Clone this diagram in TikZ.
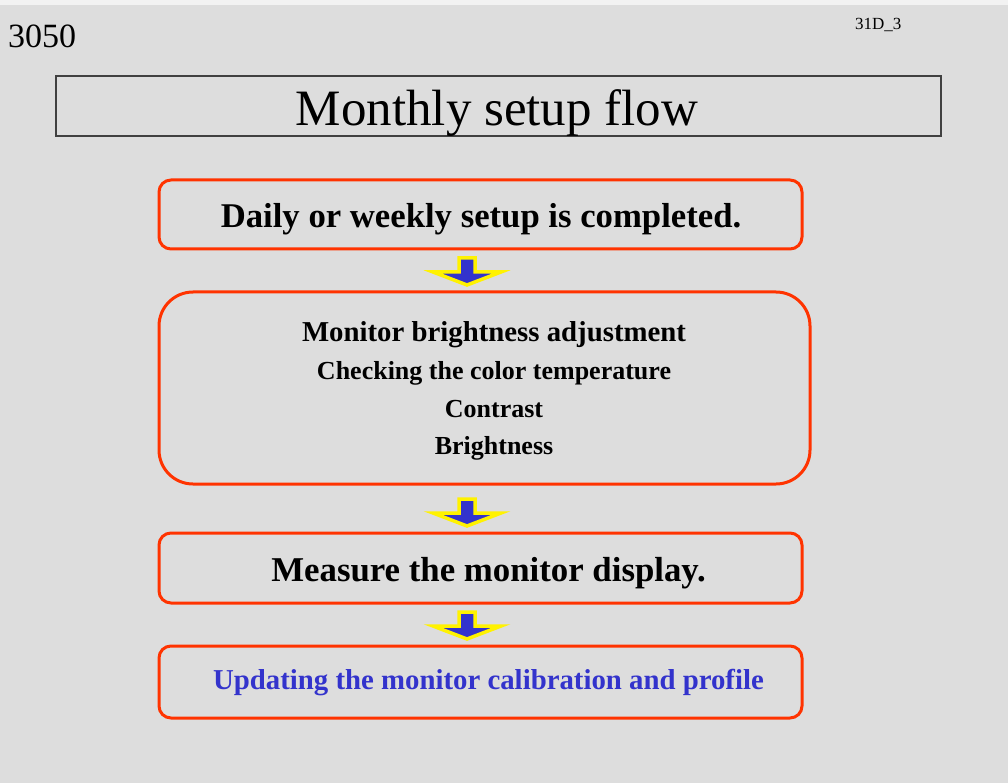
\documentclass[tikz,border=0pt]{standalone}
\usepackage{fontspec}
\setmainfont{Liberation Serif}
\definecolor{pagegray}{HTML}{DDDDDD}
\definecolor{pagetop}{HTML}{F2F2F2}
\definecolor{flowred}{HTML}{FF3300}
\definecolor{flowblue}{HTML}{3333CC}
\definecolor{titleline}{HTML}{404040}
\newcommand{\fsz}[1]{\fontsize{#1}{#1}\selectfont}
\tikzset{
  stepbox/.style={draw=flowred, line width=3pt, rounded corners=12pt, inner sep=0pt},
  steptext/.style={anchor=base, text=black, inner sep=0pt, align=center},
  blockarrow/.pic={
    \filldraw[draw=yellow, fill=flowblue, line width=3.5pt, line join=miter]
      (-8,0) -- (8,0) -- (8,14) -- (34,14) -- (0,27) -- (-34,14) -- (-8,14) -- cycle;
  }
}
\begin{document}
\begin{tikzpicture}[x=1pt,y=-1pt]
% page background
\fill[pagetop] (0,0) rectangle (1008,783);
\fill[pagegray] (0,5) rectangle (1008,783);
\useasboundingbox (0,0) rectangle (1008,783);

% page number and slide code
\node[anchor=base west, inner sep=0pt, font=\fsz{34}] (num) at (8,48) {3050};
\node[anchor=base west, inner sep=0pt, font=\fsz{17}] (code) at (855,30) {31D\_3};

% title bar
\node[draw=titleline, line width=1.2pt, minimum width=885pt, minimum height=60pt, inner sep=0pt] (title) at (498.5,106) {};
\node[anchor=base, inner sep=0pt, font=\fsz{51}] (titletext) at (497,126) {Monthly setup flow};

% flow boxes
\node[stepbox, minimum width=643pt, minimum height=69pt] (b1) at (480.5,214.5) {};
\node[stepbox, rounded corners=34pt, minimum width=651pt, minimum height=192pt] (b2) at (484.5,388) {};
\node[stepbox, minimum width=643pt, minimum height=70pt] (b3) at (480.5,568) {};
\node[stepbox, minimum width=643pt, minimum height=72pt] (b4) at (480.5,682) {};

% box texts
\node[steptext, font=\bfseries\fsz{34.7}] (t1) at (481,228) {Daily or weekly setup is completed.};
\node[steptext, font=\bfseries\fsz{28.8}] (t2a) at (494,341) {Monitor brightness adjustment};
\node[steptext, font=\bfseries\fsz{26}] (t2b) at (494,379) {Checking the color temperature};
\node[steptext, font=\bfseries\fsz{26}] (t2c) at (494,417) {Contrast};
\node[steptext, font=\bfseries\fsz{26}] (t2d) at (494,454) {Brightness};
\node[steptext, font=\bfseries\fsz{34.8}] (t3) at (488.5,581) {Measure the monitor display.};
\node[steptext, text=flowblue, font=\bfseries\fsz{28.8}] (t4) at (488.5,689) {Updating the monitor calibration and profile};

% block arrows between the steps
\coordinate (a1) at (467,258);
\coordinate (a2) at (467,499);
\coordinate (a3) at (467,612);
\pic at (a1) {blockarrow};
\pic at (a2) {blockarrow};
\pic at (a3) {blockarrow};
\end{tikzpicture}
\end{document}
